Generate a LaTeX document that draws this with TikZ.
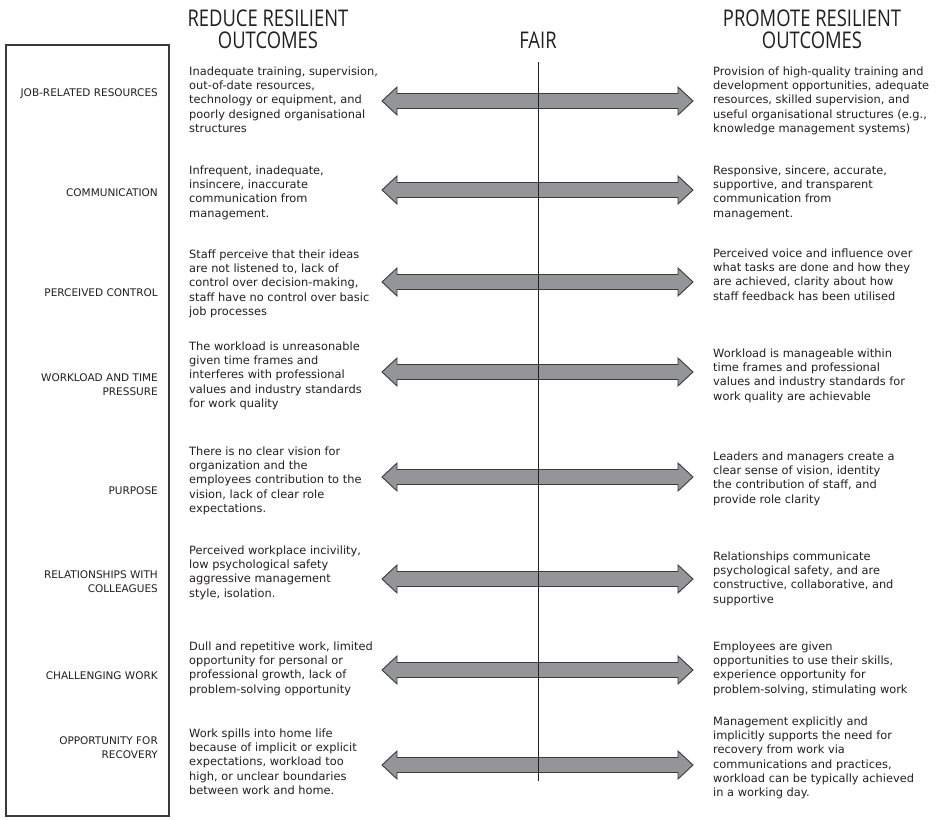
\documentclass[tikz,border=0pt]{standalone}
\usepackage{fontspec}
\setmainfont{DejaVu Sans}
\newfontfamily\headfont[FakeStretch=0.8]{Open Sans}
\definecolor{ink}{HTML}{231F20}
\definecolor{arrowfill}{HTML}{939598}
\definecolor{arrowline}{HTML}{3A3A3C}
\tikzset{
  txt/.style={font=\fontsize{11.4}{14.2}\selectfont, align=left, inner sep=0pt, anchor=north west, text=ink, execute at begin node=\strut},
  lab/.style={font=\fontsize{10.5}{13.8}\selectfont, align=right, inner sep=0pt, anchor=base east, text=ink},
  headtxt/.style={font=\headfont\fontsize{23}{22}\selectfont, align=center, inner sep=0pt, anchor=base, text=ink},
  arrowsty/.style={draw=arrowline, fill=arrowfill, line width=0.9pt, line join=miter},
  framesty/.style={draw=arrowline, line width=1.2pt},
  fairsty/.style={draw=ink, line width=0.9pt}
}
% first-line baseline minus strut height (0.7 x 14.2)
\newcommand\fb[1]{#1-9.94}
\newcommand\dblarr[2]{%
  \coordinate (#1) at (537.5,#2);
  \draw[arrowsty] (382,#2) -- (397,#2-14) -- (397,#2-7.5) -- (678,#2-7.5) -- (678,#2-14) -- (693,#2)
    -- (678,#2+14) -- (678,#2+7.5) -- (397,#2+7.5) -- (397,#2+14) -- cycle;}
\begin{document}
\begin{tikzpicture}[x=1pt,y=-1pt]
\useasboundingbox (0,0) rectangle (936,819);

% headers (base = last line)
\node[headtxt] (hreduce) at (268,48) {REDUCE RESILIENT\\OUTCOMES};
\node[headtxt] (hfair) at (538,48) {FAIR};
\node[headtxt] (hpromote) at (812,48) {PROMOTE RESILIENT\\OUTCOMES};

% frame
\draw[framesty] (6,45) rectangle (169,816);

% arrows
\dblarr{a1}{101}
\dblarr{a2}{190}
\dblarr{a3}{282}
\dblarr{a4}{372}
\dblarr{a5}{477}
\dblarr{a6}{579}
\dblarr{a7}{670}
\dblarr{a8}{765}

% fair line
\coordinate (fairtop) at (538,62);
\coordinate (fairbot) at (538,781);
\draw[fairsty] (fairtop) -- (fairbot);

% labels (base = last line)
\node[lab] (l1) at (158,96) {JOB-RELATED RESOURCES};
\node[lab] (l2) at (158,196) {COMMUNICATION};
\node[lab] (l3) at (158,296) {PERCEIVED CONTROL};
\node[lab] (l4) at (158,395) {WORKLOAD AND TIME\\PRESSURE};
\node[lab] (l5) at (158,494) {PURPOSE};
\node[lab] (l6) at (158,592) {RELATIONSHIPS WITH\\COLLEAGUES};
\node[lab] (l7) at (158,679) {CHALLENGING WORK};
\node[lab] (l8) at (158,758) {OPPORTUNITY FOR\\RECOVERY};

% left texts
\node[txt] (r1) at (189,\fb{76.5}) {Inadequate training, supervision,\\out-of-date resources,\\technology or equipment, and\\poorly designed organisational\\structures};
\node[txt] (r2) at (189,\fb{175.5}) {Infrequent, inadequate,\\insincere, inaccurate\\communication from\\management.};
\node[txt] (r3) at (189,\fb{259.5}) {Staff perceive that their ideas\\are not listened to, lack of\\control over decision-making,\\staff have no control over basic\\job processes};
\node[txt] (r4) at (189,\fb{351.5}) {The workload is unreasonable\\given time frames and\\interferes with professional\\values and industry standards\\for work quality};
\node[txt] (r5) at (189,\fb{456.5}) {There is no clear vision for\\organization and the\\employees contribution to the\\vision, lack of clear role\\expectations.};
\node[txt] (r6) at (189,\fb{555.5}) {Perceived workplace incivility,\\low psychological safety\\aggressive management\\style, isolation.};
\node[txt] (r7) at (189,\fb{651.5}) {Dull and repetitive work, limited\\opportunity for personal or\\professional growth, lack of\\problem-solving opportunity};
\node[txt] (r8) at (189,\fb{738.5}) {Work spills into home life\\because of implicit or explicit\\expectations, workload too\\high, or unclear boundaries\\between work and home.};

% right texts
\node[txt] (p1) at (713,\fb{76.5}) {Provision of high-quality training and\\development opportunities, adequate\\resources, skilled supervision, and\\useful organisational structures (e.g.,\\knowledge management systems)};
\node[txt] (p2) at (713,\fb{175.5}) {Responsive, sincere, accurate,\\supportive, and transparent\\communication from\\management.};
\node[txt] (p3) at (713,\fb{258.5}) {Perceived voice and influence over\\what tasks are done and how they\\are achieved, clarity about how\\staff feedback has been utilised};
\node[txt] (p4) at (713,\fb{358.5}) {Workload is manageable within\\time frames and professional\\values and industry standards for\\work quality are achievable};
\node[txt] (p5) at (713,\fb{461.5}) {Leaders and managers create a\\clear sense of vision, identity\\the contribution of staff, and\\provide role clarity};
\node[txt] (p6) at (713,\fb{561.5}) {Relationships communicate\\psychological safety, and are\\constructive, collaborative, and\\supportive};
\node[txt] (p7) at (713,\fb{651.5}) {Employees are given\\opportunities to use their skills,\\experience opportunity for\\problem-solving, stimulating work};
\node[txt] (p8) at (713,\fb{726.5}) {Management explicitly and\\implicitly supports the need for\\recovery from work via\\communications and practices,\\workload can be typically achieved\\in a working day.};
\end{tikzpicture}
\end{document}
